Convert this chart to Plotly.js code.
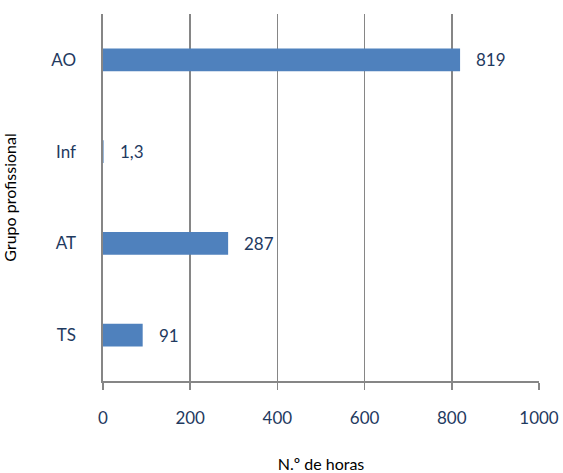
<!DOCTYPE html>
<html>
<head>
<meta charset="utf-8">
<script src="https://cdn.plot.ly/plotly-3.0.1.min.js"></script>
<style>html,body{margin:0;padding:0;background:#fff;}#chart{width:563px;height:473px;}</style>
</head>
<body>
<div id="chart"></div>
<script>
const categories = ["TS", "AT", "Inf", "AO"];
const values = [91, 287, 1.3, 819];
const valueLabels = ["91", "287", "1,3", "819"];
const xTicks = [0, 200, 400, 600, 800, 1000];

const navy = "#1F3A5F";
const grid = "#868686";
const fontFam = "Lato, 'Open Sans', sans-serif";

const trace = {
  type: "bar",
  orientation: "h",
  y: categories,
  x: values,
  width: 0.25,
  marker: {color: "#4F81BD", line: {width: 0}},
  hoverinfo: "none"
};

const annotations = categories.map((c, i) => ({
  x: values[i], y: c, xref: "x", yref: "y",
  text: valueLabels[i], showarrow: false,
  xanchor: "left", yanchor: "middle", xshift: 14,
  font: {family: fontFam, size: 17, color: navy}
}));

const layout = {
  width: 563, height: 473,
  margin: {l: 103, r: 24, t: 14, b: 92},
  paper_bgcolor: "#fff", plot_bgcolor: "#fff",
  showlegend: false,
  xaxis: {
    range: [0, 1000],
    tickvals: xTicks,
    ticktext: xTicks.map(String),
    showgrid: true, gridcolor: grid, gridwidth: 1.6,
    zeroline: false,
    showline: true, linecolor: grid, linewidth: 1.6,
    ticks: "outside", ticklen: 7, tickcolor: grid, tickwidth: 1.6,
    ticklabelstandoff: 14,
    tickfont: {family: fontFam, size: 17, color: navy},
    title: {text: "N.º de horas", font: {family: fontFam, size: 16, color: "#000"}, standoff: 34},
    fixedrange: true
  },
  yaxis: {
    range: [-0.5, 3.5],
    type: "category",
    showgrid: false, zeroline: false,
    showline: true, linecolor: grid, linewidth: 1.6,
    ticks: "", ticklabelstandoff: 22,
    tickfont: {family: fontFam, size: 17, color: navy},
    title: {text: "Grupo profissional", font: {family: fontFam, size: 16, color: "#000"}, standoff: 36},
    fixedrange: true
  },
  annotations: annotations
};

Plotly.newPlot("chart", [trace], layout, {displayModeBar: false, staticPlot: true});
</script>
</body>
</html>
